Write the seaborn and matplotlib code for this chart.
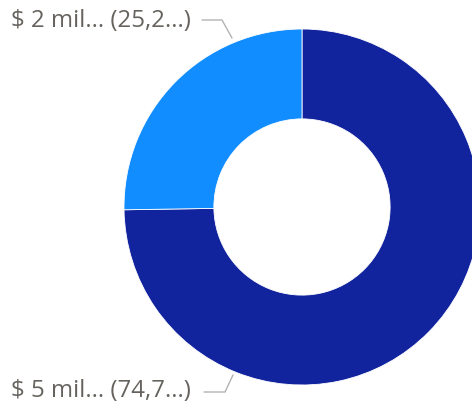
import numpy as np
import seaborn as sns
import matplotlib.pyplot as plt

# slices, clockwise from 12 o'clock
labels = ['$ 5 mil... (74,7...)', '$ 2 mil... (25,2...)']
shares = [74.75, 25.25]
colors = ['#12239E', '#118DFF']

sns.set_theme(style='white')
plt.rcParams['font.family'] = ['Open Sans', 'DejaVu Sans']

fig = plt.figure(figsize=(4.72, 4.08), dpi=100)
ax = fig.add_axes([0, 0, 1, 1])

cx, cy, r = 302, 201, 178
wedges, _ = ax.pie(shares, colors=colors, startangle=90, counterclock=False,
                   center=(cx, cy), radius=r, frame=True,
                   wedgeprops=dict(width=r * 0.505, edgecolor='white', linewidth=0.6))
ax.set_xlim(0, 472)
ax.set_ylim(0, 408)
ax.set_aspect('equal')
ax.axis('off')

# label positions (text anchor, leader line points), y measured from bottom
label_pos = [
    ((11, 17), [(204, 16), (225, 16), (233, 33)]),
    ((11, 387), [(202, 388), (222, 388), (232, 370)]),
]
for lab, (txt, line) in zip(labels, label_pos):
    xs = [p[0] for p in line]
    ys = [p[1] for p in line]
    ax.plot(xs, ys, color='#B3B3B3', lw=1.0)
    ax.text(txt[0], txt[1], lab, fontsize=17.3, color='#66635F',
            ha='left', va='center')

fig.savefig('out.png', dpi=100)
